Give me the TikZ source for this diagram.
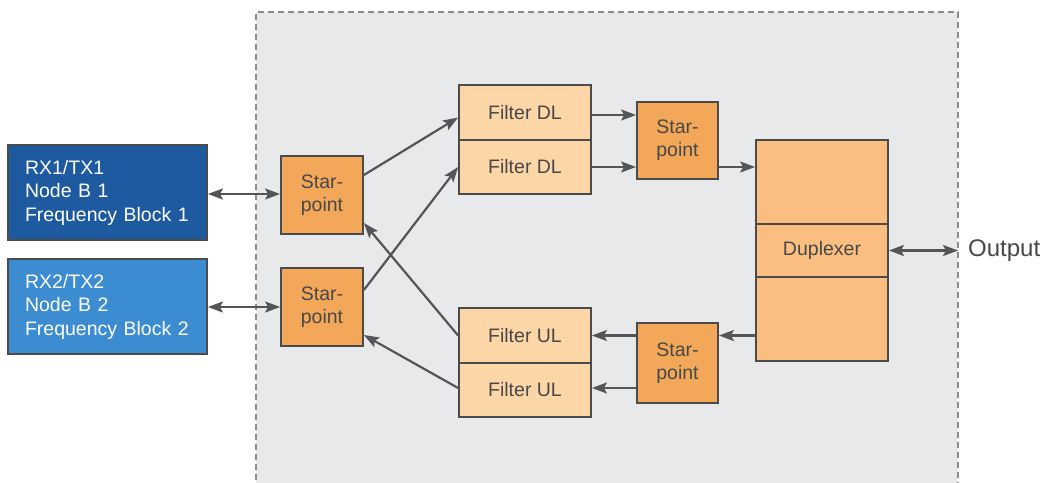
\documentclass[tikz,border=0pt]{standalone}
\usepackage{fontspec}
\setmainfont{Liberation Sans}
\usetikzlibrary{arrows.meta}
\definecolor{bgray}{RGB}{232,233,235}
\definecolor{frameg}{RGB}{140,140,140}
\definecolor{edge}{RGB}{75,75,75}
\definecolor{darkblue}{RGB}{30,90,160}
\definecolor{lightblue}{RGB}{60,140,210}
\definecolor{spor}{RGB}{242,168,88}
\definecolor{filtor}{RGB}{253,214,168}
\definecolor{dupor}{RGB}{249,190,128}
\definecolor{txt}{RGB}{72,72,72}
\definecolor{arrg}{RGB}{85,85,85}
\tikzset{
  base/.style={draw=edge, line width=1.8pt, inner sep=0pt, font=\fontsize{19.5}{23.5}\selectfont},
  bluebox/.style={base, minimum height=95pt, text width=165pt, inner xsep=17pt, align=left, text=white},
  starbox/.style={base, fill=spor, minimum width=82pt, minimum height=78pt, align=center, text=txt, font=\fontsize{19.5}{23}\selectfont},
  filtbox/.style={base, fill=filtor, minimum width=132pt, text=txt},
  dupbox/.style={base, fill=dupor, minimum width=132pt, text=txt},
  tip/.style={},
  arr/.style={draw=arrg, line width=2.2pt, -{Stealth[length=15pt,width=11pt,inset=3pt]}},
  darr/.style={draw=arrg, line width=2.2pt, {Stealth[length=15pt,width=11pt,inset=3pt]}-{Stealth[length=15pt,width=11pt,inset=3pt]}}
}
\begin{document}
\begin{tikzpicture}[x=1pt,y=-1pt]
\useasboundingbox (0,0) rectangle (1051,482);
\fill[white] (0,0) rectangle (1051,482);
\fill[bgray] (256,12) rectangle (958,490);
\draw[frameg, line width=1.2pt, dash pattern=on 6pt off 4pt] (256,490) -- (256,12) -- (958,12) -- (958,490);

\node[bluebox, fill=darkblue] (rx1) at (107.5,192.5) {RX1/TX1\\Node B 1\\Frequency Block 1};
\node[bluebox, fill=lightblue] (rx2) at (107.5,306.5) {RX2/TX2\\Node B 2\\Frequency Block 2};

\node[starbox] (sp1) at (322,195) {Star-\\point};
\node[starbox] (sp2) at (322,307) {Star-\\point};

\node[filtbox, minimum height=55pt] (fdl1) at (525,112.5) {Filter DL};
\node[filtbox, minimum height=54pt] (fdl2) at (525,167) {Filter DL};
\node[filtbox, minimum height=55pt] (ful1) at (525,335.5) {Filter UL};
\node[filtbox, minimum height=54pt] (ful2) at (525,390) {Filter UL};

\node[starbox, minimum width=81pt, minimum height=77pt] (spdl) at (677.5,140.5) {Star-\\point};
\node[starbox, minimum width=81pt, minimum height=80pt] (spul) at (677.5,363) {Star-\\point};

\node[dupbox, minimum height=84pt] (dup1) at (822,182) {};
\node[dupbox, minimum height=53pt] (dup2) at (822,250.5) {Duplexer};
\node[dupbox, minimum height=84pt] (dup3) at (822,319) {};

\node[anchor=west, inner xsep=10pt, inner ysep=0pt, text=txt, font=\fontsize{24}{28}\selectfont] (out) at (958,250.5) {Output};

\draw[darr] (rx1.east |- 0,194) -- (sp1.west |- 0,194);
\draw[darr] (rx2.east |- 0,307) -- (sp2.west |- 0,307);

\draw[arr] ([yshift=20pt]sp1.east) -- ([yshift=-5pt]fdl1.west);
\draw[arr] ([yshift=17pt]sp2.east) -- (fdl2.west);
\draw[arr] (ful1.west) -- ([yshift=-28pt]sp1.east);
\draw[arr] ([yshift=2pt]ful2.west) -- ([yshift=-28pt]sp2.east);

\draw[arr] ([yshift=-2.5pt]fdl1.east) -- ([yshift=-2.5pt]fdl1.east -| spdl.west);
\draw[arr] (fdl2.east) -- (fdl2.east -| spdl.west);
\draw[arr] (spdl.east |- fdl2.east) -- (dup1.west |- fdl2.east);

\draw[arr] (dup3.west |- ful1.west) -- (spul.east |- ful1.west);
\draw[arr] (spul.west |- ful1.east) -- (ful1.east);
\draw[arr] ([yshift=2pt]spul.west |- ful2.east) -- ([yshift=2pt]ful2.east);

\draw[darr] (dup2.east) -- (out.west);
\end{tikzpicture}
\end{document}
